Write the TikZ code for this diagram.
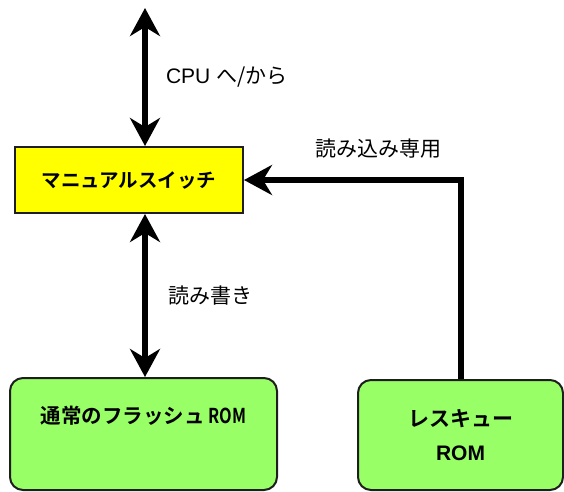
\documentclass[tikz,border=0pt]{standalone}
\usepackage{fontspec}
\usepackage{graphicx}
\setmainfont{Liberation Sans}
\newfontfamily\jpfont[BoldFont={Noto Sans CJK JP Bold}]{Noto Sans CJK JP}
\usetikzlibrary{arrows.meta,positioning,calc}
\definecolor{ink}{RGB}{0,0,0}
\definecolor{edge}{RGB}{30,30,30}
\definecolor{switchfill}{RGB}{255,255,0}
\definecolor{romfill}{RGB}{153,255,102}
\tikzset{
  every picture/.style={color=ink, x=1pt, y=-1pt},
  box/.style={draw=edge, line width=2pt, inner sep=0pt, align=center},
  switchbox/.style={box, fill=switchfill, minimum width=228pt, minimum height=66pt,
    font=\jpfont\bfseries\fontsize{19.5pt}{24pt}\selectfont},
  rombox/.style={box, fill=romfill, rounded corners=13pt,
    font=\jpfont\bfseries\fontsize{20.5pt}{34pt}\selectfont},
  dual/.style={{Stealth[length=28pt,width=30pt,inset=9pt]}-{Stealth[length=28pt,width=30pt,inset=9pt]}, line width=6pt},
  flow/.style={-{Stealth[length=28pt,width=30pt,inset=9pt]}, line width=6pt},
  lbl/.style={font=\fontsize{21pt}{25pt}\selectfont, inner sep=0pt},
}

\begin{document}
\begin{tikzpicture}
  \useasboundingbox (0,0) rectangle (564,491);
  % switch in the middle, the two ROMs below it
  \node[switchbox] (switch) at (129,180) {マニュアルスイッチ};
  \node[rombox, minimum width=267pt, text height=45pt, text depth=67pt] (flash) at (143.5,434)
    {通常のフラッシュ\,\scalebox{0.8}[1]{ROM}};
  \node[rombox, minimum width=205pt, minimum height=110pt, font=\jpfont\bfseries\fontsize{21pt}{34pt}\selectfont] (rescue) at (460.5,435)
    {レスキュー\\ \fontspec{Liberation Sans}\bfseries ROM};
  \coordinate (cpu) at (145,8);
  \draw[dual] (cpu) -- node[lbl, right=18pt] {CPU {\jpfont へ/から}} (cpu |- switch.north);
  \draw[dual] (cpu |- switch.south) -- node[lbl, right=20pt] {\jpfont 読み書き} (cpu |- flash.north);
  \draw[flow] (rescue.north) |- node[lbl, pos=0.69, above=19pt] {\jpfont 読み込み専用} (switch.east);
\end{tikzpicture}
\end{document}
